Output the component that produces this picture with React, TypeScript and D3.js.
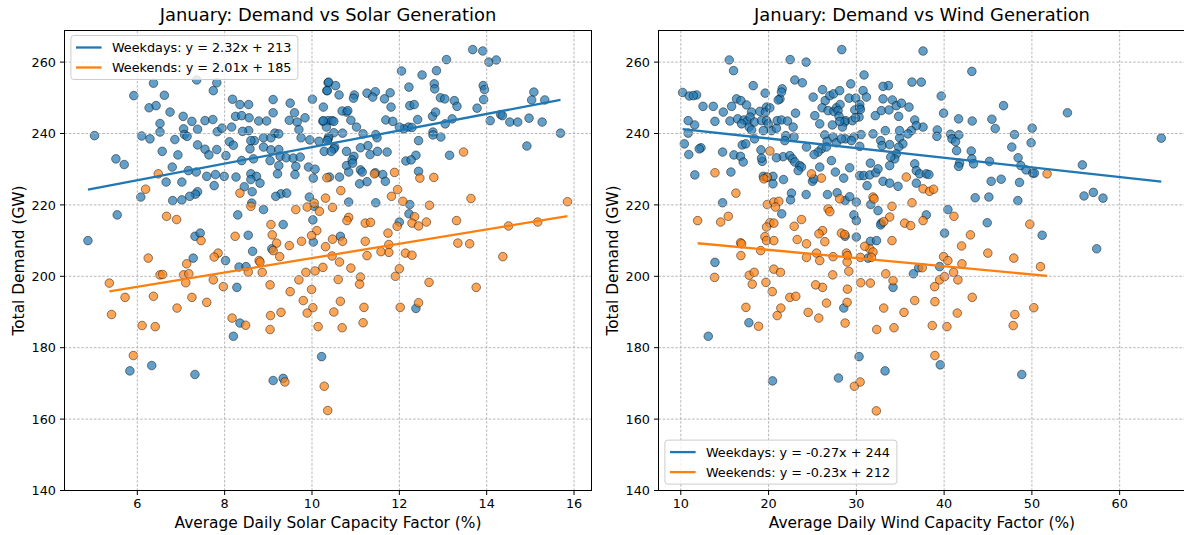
import React from 'react';
import * as d3 from 'd3';

// Shared tick values
const demandTicks = [140, 160, 180, 200, 220, 240, 260];
const solarTicks = [6, 8, 10, 12, 14, 16];
const windTicks = [10, 20, 30, 40, 50, 60];

// Series names, colours and fitted lines [slope, intercept]
const seriesNames = ['Weekdays', 'Weekends'];
const seriesColors = ['#1f77b4', '#ff7f0e'];
const solarFits: [number, number][] = [[2.32, 213], [2.01, 185]];
const windFits: [number, number][] = [[-0.27, 244], [-0.23, 212]];

// January days: [solar capacity factor %, total demand GW]
const solarWeekdays: [number, number][] = [
  [6.37,254.1],[7.36,255.0],[7.82,254.2],[7.74,252.0],[5.92,250.6],[6.62,250.7],[6.27,247.2],[6.43,247.8],[6.75,246.0],[7.05,244.8],
  [7.25,243.4],[7.55,243.6],[7.73,243.9],[6.52,242.8],[7.06,241.3],[7.38,241.2],[7.83,240.5],[7.94,241.5],[8.18,249.6],[8.35,248.1],
  [8.55,248.1],[8.25,244.8],[8.39,245.0],[8.56,244.4],[8.78,243.5],[8.96,243.5],[9.11,245.8],[9.11,249.5],[9.50,248.5],[9.60,245.8],
  [9.84,244.4],[10.01,249.6],[10.26,247.4],[10.37,254.2],[10.34,252.0],[10.37,243.6],[10.25,243.4],[9.48,243.7],[9.66,243.2],[9.70,241.1],
  [9.95,238.2],[10.16,237.8],[10.37,238.5],[9.75,238.8],[8.89,238.8],[8.68,238.0],[8.55,240.8],[9.15,240.1],[9.24,239.9],[9.06,238.8],
  [6.10,239.3],[6.29,238.5],[6.52,240.4],[6.86,238.3],[7.08,239.7],[7.14,239.2],[5.02,239.4],[5.51,232.9],[5.70,231.3],[6.57,235.0],
  [6.93,234.0],[6.80,230.6],[7.38,236.8],[7.55,235.6],[7.64,234.0],[7.82,235.5],[8.03,233.8],[8.11,237.7],[8.16,241.8],[8.20,236.7],
  [8.41,240.6],[8.60,238.0],[8.58,235.7],[8.66,232.9],[8.89,236.2],[9.06,235.4],[9.24,235.5],[9.27,233.6],[9.41,233.2],[9.57,233.1],
  [9.63,230.8],[9.73,233.4],[9.92,230.6],[10.07,230.0],[9.61,228.5],[9.21,228.7],[9.24,231.0],[9.04,232.4],[8.39,232.4],[8.26,227.8],
  [7.99,228.0],[7.79,228.5],[7.59,228.0],[7.17,229.6],[7.35,229.2],[8.60,228.7],[8.73,228.0],[8.60,227.1],[8.45,225.1],[8.63,223.7],
  [8.81,226.1],[9.29,223.1],[9.42,223.3],[9.17,222.4],[10.03,227.5],[9.94,222.2],[10.05,219.6],[6.66,226.4],[7.02,226.4],[7.38,223.7],
  [7.33,223.0],[7.20,222.4],[6.81,221.2],[7.02,221.4],[6.08,222.2],[5.54,217.2],[4.87,210.0],[7.76,225.4],[8.30,217.2],[8.89,218.7],
  [10.02,215.8],[8.64,207.0],[9.08,207.7],[7.32,211.2],[7.44,212.1],[7.28,205.1],[8.02,204.4],
  [8.33,202.6],[8.49,202.7],[8.28,196.9],[8.35,186.9],[8.20,183.2],[5.83,173.5],[6.33,175.0],[7.32,172.5],[9.11,170.8],[9.34,171.4],
  [10.22,177.5],[8.62,220.5],[8.54,211.5],[9.34,214.5],[10.03,209.6],
  [13.68,263.5],[13.91,263.1],[14.05,260.0],[14.22,260.6],[13.08,260.7],[12.05,257.5],[12.52,256.4],[12.85,257.6],[10.38,254.4],[10.54,253.4],
  [10.35,252.0],[10.62,250.8],[10.97,250.8],[10.95,249.9],[11.26,251.3],[11.45,251.7],[11.39,250.2],[11.79,251.4],[11.66,249.7],[11.81,247.4],
  [12.22,253.0],[12.80,253.9],[12.81,252.5],[12.94,250.0],[13.04,249.7],[13.26,249.2],[13.32,247.6],[13.92,253.4],[13.95,252.3],[13.93,249.5],
  [13.78,247.1],[15.08,251.6],[15.03,249.4],[15.33,249.4],[14.97,244.3],[15.27,243.2],[15.69,240.1],[14.92,236.5],[14.53,243.2],[14.71,243.2],
  [14.32,245.3],[14.36,245.0],[14.08,243.6],[13.21,244.1],[13.15,233.9],[13.05,242.7],[12.76,244.8],[12.83,246.0],[12.77,240.4],[12.77,239.6],
  [12.95,239.0],[12.24,247.8],[12.34,248.1],[12.42,243.9],[12.21,241.8],[12.29,241.7],[12.10,241.3],[12.0,241.8],[12.44,238.0],[12.38,233.9],
  [12.15,232.3],[12.27,232.6],[12.44,229.4],[11.69,243.8],[11.85,243.4],[11.46,239.7],[11.49,238.8],[11.17,239.9],[11.28,236.6],[11.11,236.0],
  [11.02,241.8],[10.89,243.7],[10.79,246.0],[10.69,246.3],[10.82,246.4],[10.46,243.6],[10.50,243.4],[10.33,241.8],[10.26,243.6],[10.50,240.2],
  [10.70,240.1],[10.38,239.0],[10.35,238.0],[10.52,236.2],[10.50,235.7],[10.28,235.0],[10.44,235.0],[10.79,235.0],[10.96,233.6],[10.92,232.6],
  [10.79,231.0],[10.84,229.2],[10.93,231.7],[11.11,229.8],[11.15,229.2],[11.33,234.1],[11.50,235.0],[11.72,234.8],[11.45,229.0],[11.62,228.5],
  [11.68,226.6],[11.26,226.5],[11.09,225.9],[10.63,227.8],[10.40,227.8],[10.84,220.8],[11.46,220.6],[12.24,220.1],[12.22,217.5],[12.0,215.2],
  [10.65,211.2],[12.38,191.0],
];

const solarWeekends: [number, number][] = [
  [6.48,228.7],[6.19,224.4],[8.35,223.3],[8.60,219.6],[9.63,218.7],[9.89,219.4],[10.05,220.5],[10.17,218.2],[10.34,227.6],[6.67,216.8],
  [6.90,215.9],[9.06,214.5],[10.11,212.8],[9.99,211.4],[9.76,209.8],[9.09,211.6],[8.24,211.2],[7.46,210.0],[9.19,209.3],[9.11,207.2],
  [9.26,205.5],[7.85,206.5],[7.76,205.4],[6.25,205.1],[8.79,204.4],
  [9.48,208.6],[10.31,208.3],[7.13,203.5],[6.52,200.4],[6.58,200.5],[7.06,200.4],[7.18,200.7],[7.11,198.2],[7.74,199.0],[7.97,197.1],
  [8.54,201.2],[8.86,201.1],[8.81,204.0],[9.04,197.6],[9.50,195.7],[9.70,199.0],[9.86,201.1],[10.07,201.5],[10.25,202.5],[9.99,196.3],
  [9.80,193.2],[10.02,191.2],[9.89,189.7],[9.29,189.9],[9.05,189.0],[9.04,185.1],[8.48,186.3],[8.17,188.3],[7.59,192.7],[7.25,194.1],
  [6.91,191.1],[6.37,194.4],[5.72,194.1],[5.36,198.1],[5.41,189.3],[6.11,186.2],[6.41,185.9],[5.91,177.8],[10.14,185.9],[10.28,169.2],
  [9.38,170.4],[10.36,162.4],
  [13.47,234.8],[11.43,228.7],[11.89,229.1],[12.47,227.5],[12.79,227.7],[10.66,224.0],[10.31,221.9],[11.96,224.3],[11.82,222.4],[12.08,221.0],
  [13.64,221.8],[15.85,220.9],[12.69,219.9],[10.47,219.3],[10.84,216.5],[10.80,215.6],[11.22,214.9],[11.34,215.1],[12.35,216.7],[12.29,214.9],
  [12.44,214.1],[12.62,215.2],[13.31,215.6],[11.95,214.0],[11.74,212.1],[14.50,214.1],[15.17,215.2],[13.34,209.3],[13.61,209.1],[10.47,210.4],
  [10.70,209.8],[11.22,209.8],[11.76,208.9],[11.76,206.7],[11.58,206.9],[12.14,206.5],[12.29,205.9],[11.26,205.8],[10.46,205.7],[14.37,205.5],
  [10.63,204.0],[10.89,202.3],[11.11,199.8],[11.09,197.8],[10.60,199.1],[11.91,200.0],[12.0,202.1],[12.68,198.3],[13.76,196.9],[10.65,193.0],
  [10.50,190.0],[11.19,191.3],[11.17,187.0],[10.69,185.6],[12.02,191.3],[12.44,192.6],
];

// January days: [wind capacity factor %, total demand GW]
const windWeekdays: [number, number][] = [
  [28.34,263.5],[15.52,260.6],[16.01,257.6],[22.46,260.7],[24.28,260.0],[37.6,263.1],[10.21,251.5],[10.97,250.5],[11.80,250.8],[11.43,250.6],
  [12.53,247.6],[13.70,247.6],[14.84,246.0],[15.79,247.6],[16.35,249.7],[16.85,249.2],[17.49,248.0],[18.25,253.4],[18.06,246.0],[19.01,246.2],
  [15.6,243.5],[16.48,244.1],[17.2,243.8],[17.6,243.5],[17.9,244.6],[16.92,242.7],[17.8,241.8],[18.4,243.2],[18.07,241.0],[13.89,243.4],
  [11.58,242.4],[10.84,243.6],[10.84,240.1],[10.91,234.1],[10.40,237.1],[12.3,236.0],[12.1,235.7],[11.6,228.4],[14.76,234.8],[15.71,229.2],
  [16.05,234.0],[16.8,233.6],[17.11,232.0],[14.76,220.6],[18.4,238.5],[17.0,236.8],[17.4,237.1],[19.13,235.4],[19.28,232.2],[19.2,233.1],
  [19.61,251.3],[19.77,247.4],[19.65,246.0],[20.15,247.2],[20.34,240.8],[19.4,240.8],[19.2,243.6],[19.77,243.6],[19.96,242.7],[20.9,241.5],
  [20.98,243.6],[21.47,243.8],[22.16,243.5],[21.3,249.7],[21.55,252.5],[21.47,251.6],[21.1,249.4],[22.99,255.0],[23.85,254.2],[23.07,245.7],
  [22.8,241.8],[22.9,239.0],[21.97,239.4],[21.85,238.0],[21.66,233.5],[20.9,233.2],[22.42,233.8],[22.72,232.9],[22.99,232.0],[23.56,231.0],
  [23.75,230.6],[23.37,229.6],[20.5,228.0],[21.7,227.1],[20.5,225.9],[19.4,228.0],[19.8,227.7],[22.61,223.3],[22.5,221.4],[21.5,217.5],
  [24.28,222.9],[25.27,245.0],[26.15,252.3],[26.45,249.2],[26.98,250.6],[27.4,251.1],[28.1,252.0],[25.08,250.2],[26.1,247.2],[26.78,246.4],
  [27.43,246.2],[27.73,247.2],[28.15,248.1],[27.92,246.4],[28.03,244.8],[28.76,243.6],[28.68,243.2],[28.42,241.8],[28.1,243.4],[27.27,242.4],
  [25.83,242.7],[26.4,239.6],[27.35,239.0],[26.67,237.8],[27.73,237.4],[26.02,235.7],[26.59,236.2],[25.64,234.8],[24.32,236.2],[25.19,234.1],
  [25.83,230.6],[27.16,232.4],[27.61,229.2],[28.56,227.5],[29.24,230.4],[25.0,226.6],[25.16,227.3],[26.71,222.9],[27.81,223.4],[28.72,221.2],
  [29.24,222.3],[30.0,220.8],[29.72,217.2],[30.0,215.6],[29.17,249.9],[29.93,249.9],[29.36,253.9],[29.82,246.6],[30.39,247.2],[30.31,244.6],
  [29.55,243.6],[29.89,244.4],[30.77,252.0],[31.15,250.2],[30.88,256.4],[30.39,248.1],[30.46,246.7],[30.54,239.7],[30.39,236.4],[29.72,239.0],
  [28.76,238.5],[29.44,238.0],[28.3,238.5],[30.39,228.2],[30.85,228.2],[31.53,228.4],[32.21,229.0],[31.6,231.7],[32.47,230.1],[31.22,225.4],
  [31.64,220.1],[32.47,218.4],[32.85,214.9],[31.9,239.9],[32.77,238.0],[33.3,240.8],[32.93,236.6],[33.8,236.9],[32.16,245.0],[32.85,246.4],
  [33.72,246.6],[34.82,244.8],[34.1,249.4],[33.04,249.7],[33.65,253.4],[33.04,253.2],[34.56,247.8],[35.13,248.5],[36.34,254.4],[37.4,254.4],
  [36.0,247.4],[36.65,243.8],[37.6,241.8],[36.83,242.2],[36.26,240.8],[35.88,239.9],[34.93,238.8],[34.93,240.8],[35.3,237.1],[34.82,236.2],
  [34.56,234.3],[34.37,232.9],[33.92,233.4],[33.8,231.0],[33.04,226.6],[33.8,226.1],[34.75,225.2],[36.83,226.1],[36.65,231.5],[36.83,229.6],
  [37.21,228.7],[37.97,228.7],[37.97,217.2],[31.6,209.8],[32.3,210.0],
  [13.89,203.9],[17.76,187.0],[13.13,183.2],[20.45,170.7],[27.96,171.5],[30.31,177.5],[33.27,173.5],[28.57,191.1],[34.18,196.9],[36.5,200.7],
  [37.1,202.4],[31.34,205.1],[30.0,211.0],[28.72,211.2],[32.77,214.4],
  [43.16,257.4],[39.67,250.5],[39.94,245.7],[46.77,247.8],[54.05,245.8],[41.65,244.1],[43.2,243.5],[45.44,244.0],[45.82,241.4],[39.22,241.0],
  [39.18,239.2],[40.74,239.8],[41.68,239.6],[40.89,238.5],[41.3,237.7],[41.42,235.2],[48.02,239.7],[50.03,241.5],[49.91,237.4],[47.71,236.2],
  [48.43,233.2],[48.74,231.0],[49.34,229.8],[50.1,228.9],[50.29,228.9],[43.09,235.1],[43.16,232.9],[43.35,231.5],[41.76,231.7],[41.65,230.8],
  [45.17,232.2],[38.27,228.5],[45.36,226.6],[46.5,227.2],[48.59,226.3],[43.54,222.0],[45.1,222.2],[48.4,221.2],[55.75,231.2],[55.94,222.5],
  [57.0,223.5],[58.1,221.9],[64.74,238.7],[40.43,218.7],[40.05,212.1],[44.91,215.0],[51.17,211.5],[57.38,207.7],
  [39.56,175.2],[48.85,172.5],[39.49,202.7],
];

const windWeekends: [number, number][] = [
  [20.15,235.1],[13.89,229.0],[16.28,223.3],[19.85,227.8],[19.47,227.3],[24.89,228.7],[26.02,227.5],[28.1,221.7],[31.9,222.2],[32.02,221.7],
  [34.06,219.6],[35.69,227.8],[36.34,220.6],[37.6,224.5],[19.85,220.1],[20.6,220.8],[21.17,221.0],[20.79,219.4],[26.78,218.9],[26.98,218.1],
  [11.92,215.6],[14.54,215.2],[15.41,216.8],[20.15,215.0],[20.6,214.9],[19.77,213.8],[22.92,214.0],[23.75,215.9],[19.58,211.1],[19.77,210.0],
  [20.6,210.0],[23.26,210.3],[24.32,209.1],[26.15,212.8],[25.74,211.9],[26.41,209.7],[28.3,212.1],[28.68,211.7],[33.8,216.6],[33.12,215.3],
  [35.5,214.9],[36.19,214.2],[37.6,215.6],[34.06,210.0],[31.53,207.7],[31.9,206.8],[30.96,208.4],[16.81,209.4],[16.93,209.1],[19.1,207.2],
  [16.85,205.8],[24.32,205.3],[28.87,206.5],[28.98,205.8],[30.46,205.3],[31.72,205.3],
  [25.46,206.5],[25.83,204.4],[27.35,205.5],[28.95,204.0],[29.14,201.4],[30.5,198.2],[31.6,198.1],[27.31,200.4],[26.15,196.9],[25.36,197.6],
  [20.6,202.0],[21.36,201.1],[19.7,198.3],[20.42,195.7],[17.8,200.3],[18.36,201.1],[18.14,197.8],[13.85,199.7],[17.42,191.3],[18.86,186.0],
  [20.98,189.0],[21.4,191.1],[22.42,194.1],[23.1,194.4],[24.51,189.9],[25.72,188.3],[26.6,192.5],[28.72,186.9],[28.95,192.7],[28.98,196.4],
  [33.12,191.1],[32.32,185.1],[34.29,185.6],[35.43,189.9],[36.65,193.2],[34.18,198.8],[33.35,200.7],[29.78,169.2],[30.43,170.4],[32.28,162.3],
  [51.73,228.7],[38.35,223.8],[38.8,224.4],[41.12,216.8],[43.0,211.6],[41.99,208.5],[44.98,206.5],[47.94,205.1],[49.76,214.6],[39.94,205.5],
  [40.43,204.4],[37.51,202.4],[42.03,203.5],[41.08,201.1],[41.57,199.0],[39.49,199.0],[38.92,197.1],[40.05,199.9],[50.98,202.7],[38.95,192.9],
  [43.2,194.1],[41.5,189.7],[38.65,186.2],[40.32,185.9],[48.06,189.3],[47.87,186.2],[50.22,191.2],[38.95,177.8],
];

const W = 1184;
const H = 535;
const FONT = "'DejaVu Sans', sans-serif";
const TOP = 30.5;
const BOTTOM = 490.5;
const PLOT_W = 527;

type PanelProps = {
  id: string;
  left: number;
  xDomain: [number, number];
  xTicks: number[];
  title: string;
  xLabel: string;
  series: [number, number][][];
  fits: [number, number][];
  legendBottom: boolean;
  legendWidth: number;
};

function fmtFit(name: string, fit: [number, number]) {
  const [m, b] = fit;
  return `${name}: y = ${m.toFixed(2)}x + ${b}`;
}

function Panel({ id, left, xDomain, xTicks, title, xLabel, series, fits, legendBottom, legendWidth }: PanelProps) {
  const right = left + PLOT_W;
  const x = d3.scaleLinear().domain(xDomain).range([left, right]);
  const y = d3.scaleLinear().domain([140, 268.85]).range([BOTTOM, TOP]);
  const line = d3.line<[number, number]>().x((d) => x(d[0])).y((d) => y(d[1]));
  const cx = (left + right) / 2;

  const legH = 44;
  const legX = left + 6.4;
  const legY = legendBottom ? BOTTOM - 6.4 - legH : TOP + 5;
  const rowY = [legY + 12, legY + 32];

  return (
    <g>
      <defs>
        <clipPath id={`clip-${id}`}>
          <rect x={left} y={TOP} width={PLOT_W} height={BOTTOM - TOP} />
        </clipPath>
      </defs>
      <g clipPath={`url(#clip-${id})`}>
        {series.map((pts, si) => (
          <g key={si}>
            {pts.map((p, i) => (
              <circle
                key={i}
                cx={x(p[0])}
                cy={y(p[1])}
                r={4.3}
                fill={seriesColors[si]}
                fillOpacity={0.7}
                stroke="#000"
                strokeOpacity={0.7}
                strokeWidth={0.65}
              />
            ))}
          </g>
        ))}
        {/* dashed grid */}
        {xTicks.map((t) => (
          <line key={`gx${t}`} x1={x(t)} x2={x(t)} y1={TOP} y2={BOTTOM} stroke="#b0b0b0" strokeWidth={0.9} strokeDasharray="2.6,1.6" />
        ))}
        {demandTicks.map((t) => (
          <line key={`gy${t}`} x1={left} x2={right} y1={y(t)} y2={y(t)} stroke="#b0b0b0" strokeWidth={0.9} strokeDasharray="2.6,1.6" />
        ))}
        {/* least-squares lines from the stated coefficients */}
        {series.map((pts, si) => {
          const [x0, x1] = d3.extent(pts, (d) => d[0]) as [number, number];
          const [m, b] = fits[si];
          const seg: [number, number][] = [[x0, m * x0 + b], [x1, m * x1 + b]];
          return <path key={`fit${si}`} d={line(seg) || ''} stroke={seriesColors[si]} strokeWidth={2.3} fill="none" />;
        })}
      </g>
      {/* frame */}
      <rect x={left} y={TOP} width={PLOT_W} height={BOTTOM - TOP} fill="none" stroke="#000" strokeWidth={1} />
      {/* x ticks */}
      {xTicks.map((t) => (
        <g key={`tx${t}`}>
          <line x1={x(t)} x2={x(t)} y1={BOTTOM} y2={BOTTOM + 4.5} stroke="#000" strokeWidth={1} />
          <text x={x(t)} y={508} textAnchor="middle" fontSize={12.8} fontFamily={FONT} fill="#000">{t}</text>
        </g>
      ))}
      {/* y ticks */}
      {demandTicks.map((t) => (
        <g key={`ty${t}`}>
          <line x1={left - 4.5} x2={left} y1={y(t)} y2={y(t)} stroke="#000" strokeWidth={1} />
          <text x={left - 8.5} y={y(t)} dy="0.36em" textAnchor="end" fontSize={12.8} fontFamily={FONT} fill="#000">{t}</text>
        </g>
      ))}
      <text x={cx} y={21} textAnchor="middle" fontSize={17.9} fontFamily={FONT} fill="#000">{title}</text>
      <text x={cx} y={528} textAnchor="middle" fontSize={15.4} fontFamily={FONT} fill="#000">{xLabel}</text>
      <text
        transform={`translate(${left - 40.5},${(TOP + BOTTOM) / 2}) rotate(-90)`}
        textAnchor="middle"
        fontSize={15.4}
        fontFamily={FONT}
        fill="#000"
      >
        Total Demand (GW)
      </text>
      {/* legend */}
      <rect x={legX} y={legY} width={legendWidth} height={legH} rx={3} fill="#fff" fillOpacity={0.8} stroke="#cccccc" strokeWidth={1} />
      {seriesNames.map((name, si) => (
        <g key={`leg${si}`}>
          <line x1={legX + 5.1} x2={legX + 30.7} y1={rowY[si]} y2={rowY[si]} stroke={seriesColors[si]} strokeWidth={2.3} />
          <text x={legX + 41} y={rowY[si]} dy="0.36em" fontSize={12.8} fontFamily={FONT} fill="#000">
            {fmtFit(name, fits[si])}
          </text>
        </g>
      ))}
    </g>
  );
}

export default function App() {
  return (
    <svg
      width={W}
      height={H}
      viewBox={`0 0 ${W} ${H}`}
      style={{ position: 'absolute', left: 0, top: 0, display: 'block', background: '#fff' }}
    >
      <rect width={W} height={H} fill="#fff" />
      <Panel
        id="solar"
        left={64.5}
        xDomain={[4.333, 16.40]}
        xTicks={solarTicks}
        title="January: Demand vs Solar Generation"
        xLabel="Average Daily Solar Capacity Factor (%)"
        series={[solarWeekdays, solarWeekends]}
        fits={solarFits}
        legendBottom={false}
        legendWidth={227}
      />
      <Panel
        id="wind"
        left={658.5}
        xDomain={[7.46, 67.5]}
        xTicks={windTicks}
        title="January: Demand vs Wind Generation"
        xLabel="Average Daily Wind Capacity Factor (%)"
        series={[windWeekdays, windWeekends]}
        fits={windFits}
        legendBottom={true}
        legendWidth={232}
      />
    </svg>
  );
}
